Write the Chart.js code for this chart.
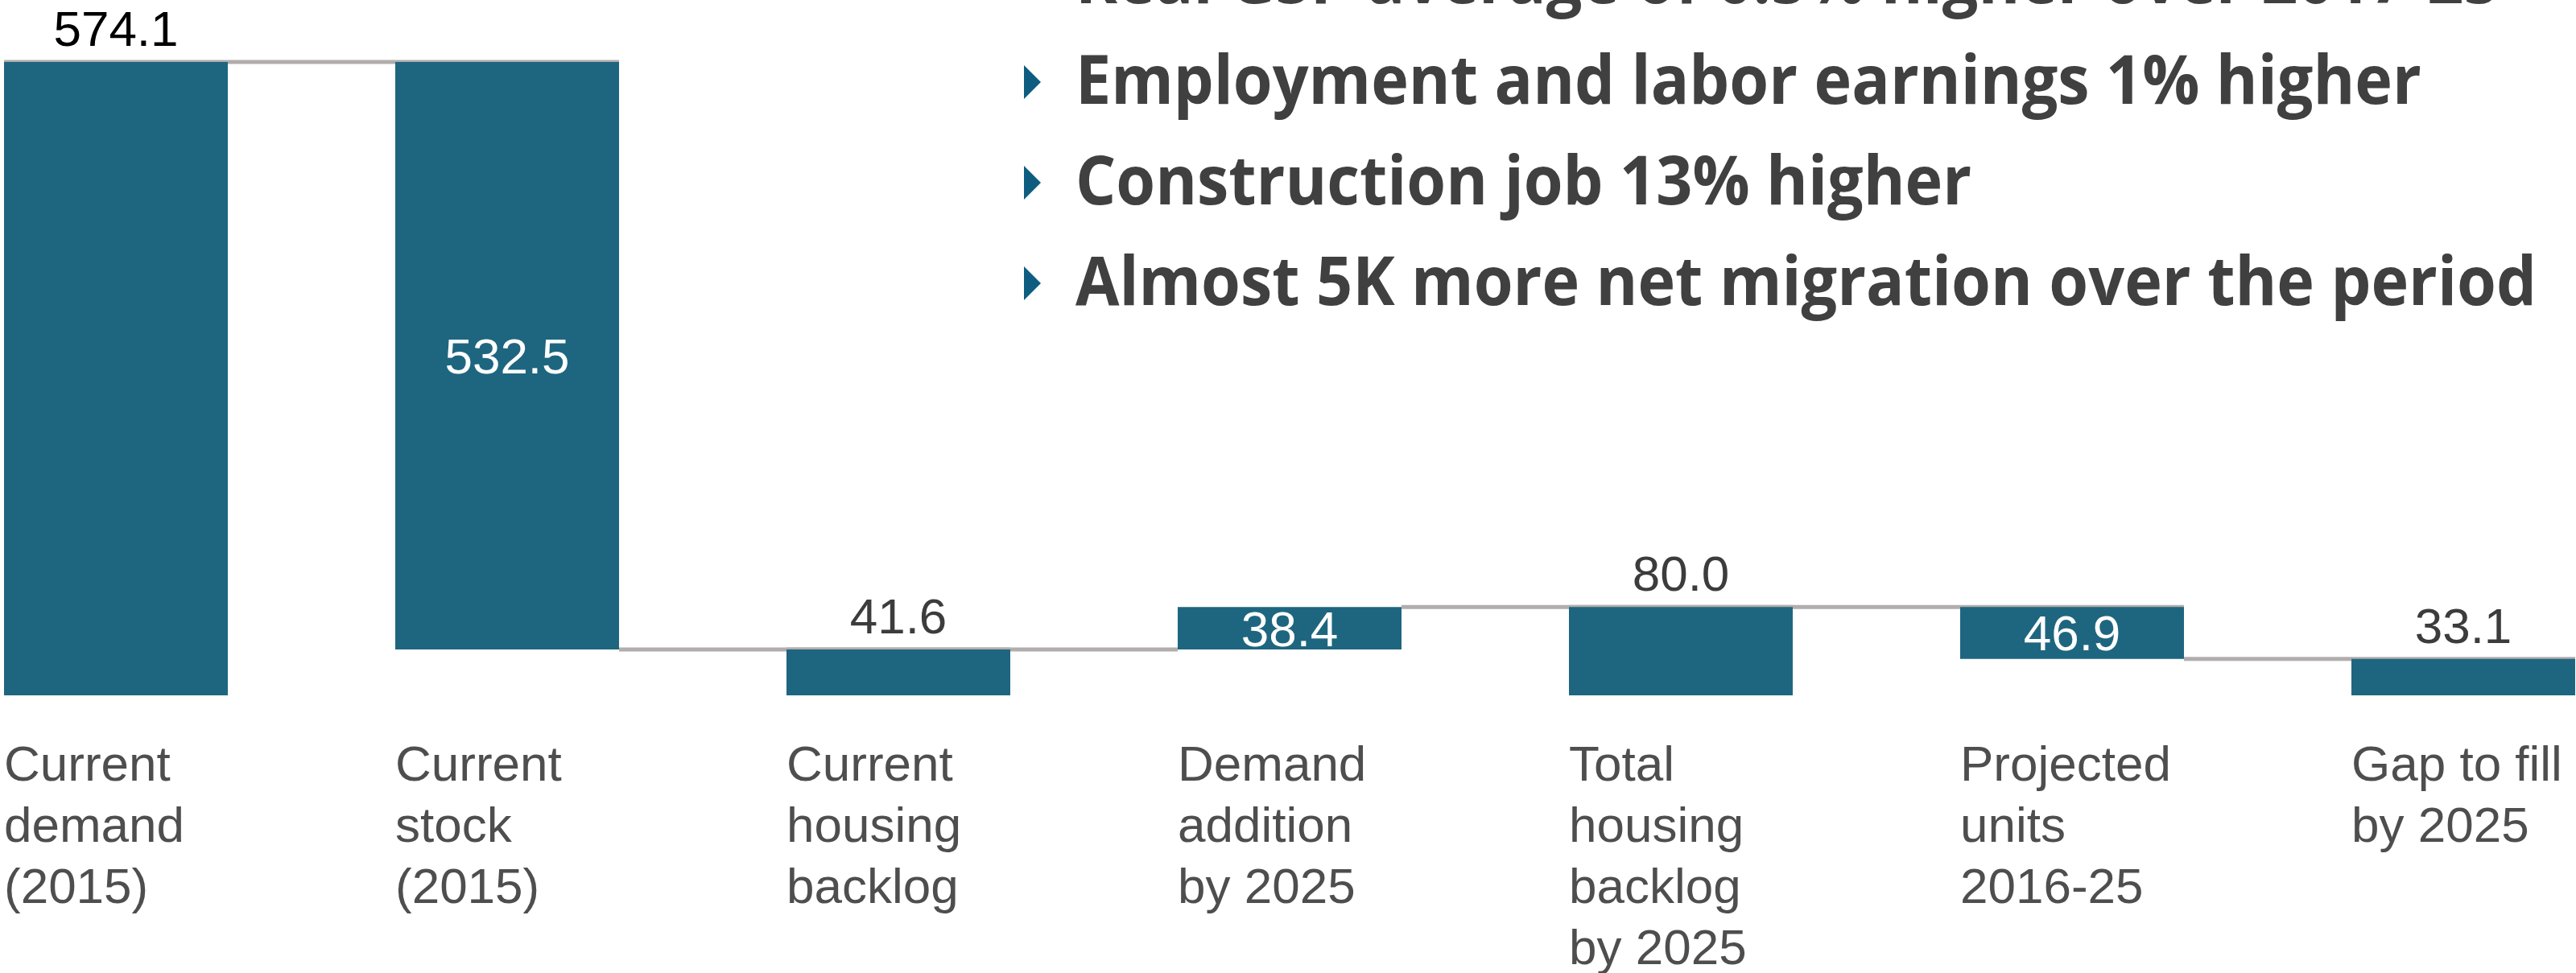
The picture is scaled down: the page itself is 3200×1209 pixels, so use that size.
<!DOCTYPE html>
<html><head><meta charset="utf-8">
<script src="https://cdn.jsdelivr.net/npm/chart.js@4/dist/chart.umd.min.js"></script>
<style>
html,body{margin:0;padding:0;background:#fff;width:3200px;height:1209px;overflow:hidden;position:relative}
#c{position:absolute;left:-99px;top:0}
.bul{position:absolute;left:1336px;top:-91px;font-family:'Open Sans';font-weight:700;font-size:84px;line-height:125px;color:#404040;white-space:nowrap;transform-origin:0 0;transform:scaleX(0.94)}
.tri{position:absolute;left:1272px;width:0;height:0;border-top:21.5px solid transparent;border-bottom:21.5px solid transparent;border-left:21px solid #0e5d80}
</style></head>
<body>
<canvas id="c" width="3402" height="1209"></canvas>
<div class="bul" id="bul"></div>
<script>
const categories = [
  ['Current','demand','(2015)'],
  ['Current','stock','(2015)'],
  ['Current','housing','backlog'],
  ['Demand','addition','by 2025'],
  ['Total','housing','backlog','by 2025'],
  ['Projected','units','2016-25'],
  ['Gap to fill','by 2025']
];
const values = [574.1, 532.5, 41.6, 38.4, 80.0, 46.9, 33.1];
const steps = ['total','minus','total','plus','total','minus','total'];
const bulletLines = [
  'Real GSP average of 0.5% higher over 2017-25',
  'Employment and labor earnings 1% higher',
  'Construction job 13% higher',
  'Almost 5K more net migration over the period'
];

// bullets
const bul = document.getElementById('bul');
bulletLines.forEach((t, i) => {
  const d = document.createElement('div'); d.textContent = t; bul.appendChild(d);
  const tri = document.createElement('div'); tri.className = 'tri';
  tri.style.top = (i * 125 - 44) + 'px';
  document.body.appendChild(tri);
});

const r1 = v => Math.round(v * 10) / 10;
const ranges = [], levels = [];
let run = 0;
values.forEach((v, i) => {
  if (steps[i] === 'total') { ranges.push([0, v]); run = v; }
  else if (steps[i] === 'minus') { ranges.push([r1(run - v), run]); run = r1(run - v); }
  else { ranges.push([run, r1(run + v)]); run = r1(run + v); }
  levels.push(run);
});

const BAR = 'rgb(30,102,127)';
const connectors = {
  id: 'connectors',
  beforeDatasetsDraw(chart) {
    const ctx = chart.ctx, meta = chart.getDatasetMeta(0), ys = chart.scales.y;
    ctx.save();
    ctx.strokeStyle = '#b2adad';
    ctx.lineWidth = 5;
    for (let i = 0; i < values.length - 1; i++) {
      const a = meta.data[i], b = meta.data[i + 1], L = levels[i];
      const x0 = (steps[i] === 'total' && ranges[i][1] === L) ? a.x - a.width / 2 : a.x + a.width / 2;
      const x1 = (ranges[i + 1][1] === L) ? b.x + b.width / 2 : b.x - b.width / 2;
      const y = ys.getPixelForValue(L);
      ctx.beginPath(); ctx.moveTo(x0, y); ctx.lineTo(x1, y); ctx.stroke();
    }
    ctx.restore();
  }
};
const valueLabels = {
  id: 'valueLabels',
  afterDatasetsDraw(chart) {
    const ctx = chart.ctx, meta = chart.getDatasetMeta(0);
    ctx.save();
    ctx.font = '62px "Liberation Sans", Arial, sans-serif';
    ctx.textAlign = 'center';
    ctx.textBaseline = 'alphabetic';
    meta.data.forEach((el, i) => {
      const top = Math.min(el.y, el.base), bot = Math.max(el.y, el.base);
      const txt = values[i].toFixed(1);
      if (steps[i] === 'total') {
        ctx.fillStyle = i === 0 ? '#000000' : '#3c3c3c';
        ctx.fillText(txt, el.x, top - 20);
      } else {
        ctx.fillStyle = '#ffffff';
        ctx.fillText(txt, el.x, (top + bot) / 2 + 22);
      }
    });
    ctx.restore();
  }
};

new Chart(document.getElementById('c'), {
  type: 'bar',
  data: {
    labels: categories,
    datasets: [{
      data: ranges,
      backgroundColor: BAR,
      borderWidth: 0,
      borderSkipped: false,
      categoryPercentage: 1,
      barPercentage: 0.572
    }]
  },
  options: {
    responsive: false,
    animation: false,
    devicePixelRatio: 1,
    layout: { padding: 0 },
    plugins: { legend: { display: false }, tooltip: { enabled: false }, title: { display: false } },
    scales: {
      y: { display: false, min: 0, max: 630.3 },
      x: {
        grid: { display: false, drawTicks: false },
        border: { display: false },
        afterFit(scale) { scale.height = 345; scale.paddingLeft = 0; scale.paddingRight = 0; },
        ticks: {
          align: 'start',
          labelOffset: -139,
          padding: 51,
          maxRotation: 0,
          autoSkip: false,
          color: '#4e4e4e',
          font: { family: '"Liberation Sans", Arial, sans-serif', size: 62, lineHeight: 1.226 }
        }
      }
    }
  },
  plugins: [connectors, valueLabels]
});
</script>
</body></html>
